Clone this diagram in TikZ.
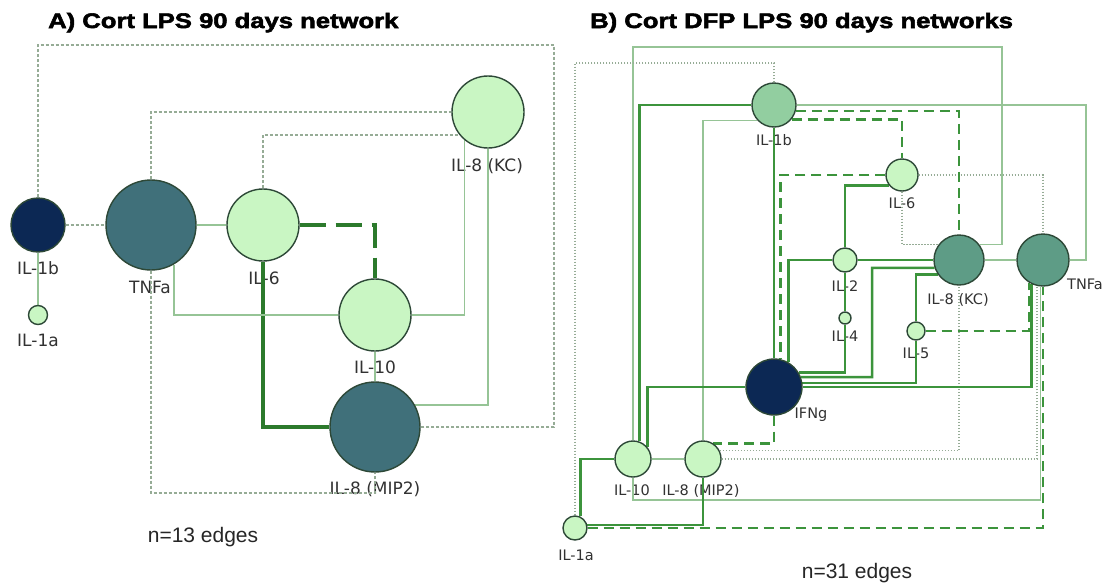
\documentclass[tikz,border=0pt]{standalone}
\usepackage{fontspec}
\newfontfamily\lblfont{DejaVu Sans}
\newfontfamily\capfont{Liberation Sans}
\newfontfamily\headfont[FakeStretch=1.22,BoldFeatures={FakeBold=2.6}]{Liberation Sans}
\pgfdeclarelayer{paper}
\pgfdeclarelayer{labels}
\pgfdeclarelayer{links}
\pgfsetlayers{paper,labels,links,main}

\definecolor{navy}{RGB}{12,40,84}
\definecolor{tealA}{RGB}{64,112,122}
\definecolor{tealB}{RGB}{94,156,134}
\definecolor{midB}{RGB}{146,206,160}
\definecolor{lightg}{RGB}{201,246,195}
\definecolor{rim}{RGB}{45,72,55}
\definecolor{thinc}{RGB}{150,196,150}
\definecolor{dotc}{RGB}{150,172,150}
\definecolor{thickc}{RGB}{60,148,60}
\definecolor{thickdark}{RGB}{44,122,44}
\definecolor{lbltext}{RGB}{50,50,50}

\begin{document}
\begin{tikzpicture}[x=1pt,y=-1pt,
  cyto/.style={circle, draw=rim, line width=1.4pt, inner sep=0pt},
  navyN/.style={cyto, fill=navy},
  tealAN/.style={cyto, fill=tealA},
  tealBN/.style={cyto, fill=tealB},
  midN/.style={cyto, fill=midB},
  lightN/.style={cyto, fill=lightg},
  lblA/.style={font=\lblfont\fontsize{17}{17}\selectfont, text=lbltext, inner sep=0pt, anchor=base},
  lblB/.style={font=\lblfont\fontsize{14.5}{14.5}\selectfont, text=lbltext, inner sep=0pt, anchor=base},
  headline/.style={font=\headfont\bfseries\fontsize{21}{21}\selectfont, inner sep=0pt, anchor=base west},
  countline/.style={font=\capfont\fontsize{21}{21}\selectfont, text=black!85, inner sep=0pt, anchor=base},
  thinA/.style={draw=thinc, line width=1.4pt},
  dotA/.style={draw=dotc, line width=1.3pt, dash pattern=on 3pt off 2pt},
  thickA/.style={draw=thickdark, line width=3.3pt},
  dashA/.style={draw=thickdark, line width=3.8pt, dash pattern=on 26pt off 10pt},
  thinB/.style={draw=thinc, line width=1.2pt},
  dotB/.style={draw=dotc, line width=1.2pt, dash pattern=on 1.5pt off 1.5pt},
  thickB/.style={draw=thickc, line width=2.5pt},
  dashB/.style={draw=thickc, line width=2.5pt, dash pattern=on 10pt off 6pt},
]
\useasboundingbox (0,0) rectangle (1105,584);
\begin{pgfonlayer}{paper}
\fill[white] (0,0) rectangle (1105,584);
\end{pgfonlayer}

% ---------------- panel A ----------------
\node[headline] (titleA) at (48,28) {A) Cort LPS 90 days network};

\node[navyN, minimum size=54pt] (IL1bA) at (38,225) {};
\node[lightN, minimum size=19pt] (IL1aA) at (38,315) {};
\node[tealAN, minimum size=90pt] (TNFaA) at (151,225) {};
\node[lightN, minimum size=72pt] (IL6A) at (263,225) {};
\node[lightN, minimum size=72pt] (IL8KCA) at (488,112) {};
\node[lightN, minimum size=72pt] (IL10A) at (375,315) {};
\node[tealAN, minimum size=90pt] (MIP2A) at (375,427) {};

\begin{pgfonlayer}{labels}
\node[lblA] (tIL1bA) at (38,274) {IL-1b};
\node[lblA] (tIL1aA) at (38,346) {IL-1a};
\node[lblA] (tTNFaA) at (150,293) {TNFa};
\node[lblA] (tIL6A) at (264,284) {IL-6};
\node[lblA] (tIL8KCA) at (487,171) {IL-8 (KC)};
\node[lblA] (tIL10A) at (375,373) {IL-10};
\node[lblA] (tMIP2A) at (375,494) {IL-8 (MIP2)};
\end{pgfonlayer}

\begin{pgfonlayer}{links}
\draw[dotA] (IL1bA) -- (TNFaA);
\draw[thinA] (IL1bA) -- (IL1aA);
\draw[dotA] (IL1bA.north) |- (554,45) |- (MIP2A.east);
\draw[thinA] (TNFaA) -- (IL6A);
\draw[dotA] (TNFaA.north) |- (IL8KCA.west);
\draw[dotA] (IL6A.north) |- (IL8KCA.219.7);
\draw[dashA] (IL6A.east) -| (IL10A.north);
\draw[thickA] (IL6A.south) |- (MIP2A.west);
\draw[thinA] (TNFaA.-60.7) |- (IL10A.west);
\draw[dotA] (TNFaA.south) |- (375,493) -- (MIP2A.south);
\draw[thinA] (IL10A.east) -| (IL8KCA.230.3);
\draw[thinA] (IL10A) -- (MIP2A);
\draw[thinA] (MIP2A.29.3) -| (IL8KCA.south);
\end{pgfonlayer}

\node[countline] (countA) at (203,542) {n=13 edges};

% ---------------- panel B ----------------
\node[headline] (titleB) at (590,28) {B) Cort DFP LPS 90 days networks};

\node[midN, minimum size=44pt] (IL1bB) at (774,105) {};
\node[lightN, minimum size=32pt] (IL6B) at (902,175) {};
\node[lightN, minimum size=24pt] (IL2B) at (845,260) {};
\node[lightN, minimum size=12pt] (IL4B) at (845,318) {};
\node[lightN, minimum size=18pt] (IL5B) at (916,331) {};
\node[tealBN, minimum size=50pt] (IL8KCB) at (959,260) {};
\node[tealBN, minimum size=52pt] (TNFaB) at (1043,260) {};
\node[navyN, minimum size=56pt] (IFNgB) at (774,387) {};
\node[lightN, minimum size=36pt] (IL10B) at (633,459) {};
\node[lightN, minimum size=36pt] (MIP2B) at (703,459) {};
\node[lightN, minimum size=24pt] (IL1aB) at (575,528) {};

\begin{pgfonlayer}{labels}
\node[lblB] (tIL1bB) at (774,145) {IL-1b};
\node[lblB] (tIL6B) at (902,208) {IL-6};
\node[lblB] (tIL2B) at (845,291) {IL-2};
\node[lblB] (tIL4B) at (845,341) {IL-4};
\node[lblB] (tIL8KCB) at (958,304) {IL-8 (KC)};
\node[lblB] (tTNFaB) at (1085,289) {TNFa};
\node[lblB] (tIL5B) at (916,358) {IL-5};
\node[lblB] (tIFNgB) at (811,418) {IFNg};
\node[lblB] (tIL10B) at (632,495) {IL-10};
\node[lblB] (tMIP2B) at (701,495) {IL-8 (MIP2)};
\node[lblB] (tIL1aB) at (576,560) {IL-1a};
\end{pgfonlayer}

\begin{pgfonlayer}{links}
% light solid links
\draw[thinB] (IL10B.north) |- (1002,47) |- (IL8KCB.36.9);
\draw[thinB] (IL1bB.223) -| (MIP2B.north);
\draw[thinB] (IL1bB.east) -- (1086,105) |- (TNFaB.east);
\draw[thinB] (IL10B.south) -- (633,500) -| (TNFaB.-96.6);
\draw[thinB] (IL10B) -- (MIP2B);
\draw[thinB] (IL8KCB) -- (TNFaB);
% dotted links
\draw[dotB] (IL6B.south) |- (IL8KCB.143.1);
\draw[dotB] (IL1bB.north) |- (575,63) -- (IL1aB.north);
\draw[dotB] (IL6B.east) -| (TNFaB.north);
\draw[dotB] (MIP2B.26.4) -| (IL8KCB.south);
\draw[dotB] (MIP2B.east) -| (TNFaB.-103.3);
% strong solid links
\draw[thickB] (IL1bB.west) -| (IL10B.70.5);
\draw[thickB] (IFNgB.west) -| (IL10B.38.9);
\draw[thickB] (IL1bB) -- (IFNgB);
\draw[thickB] (IL6B.218.7) -| (IL2B.north);
\draw[thickB] (IL2B) -- (IL8KCB);
\draw[thickB] (IL2B.west) -| (IFNgB.60);
\draw[thickB] (IL8KCB.198.7) -| (872,377) -- (IFNgB.20.9);
\draw[thickB] (IL8KCB.214.1) -| (IL5B.north);
\draw[thickB] (IL5B.south) |- (IFNgB.8.2);
\draw[thickB] (IL4B.south) |- (IFNgB.30);
\draw[thickB] (IL2B) -- (IL4B);
\draw[thickB] (TNFaB.-115) |- (IFNgB.east);
\draw[thickB] (IL1aB.14.5) -| (MIP2B.south);
\draw[thickB] (IL1aB.65.4) |- (IL10B.west);
% strong dashed links
\draw[dashB] (IL1bB.-15.8) -| (IL8KCB.north);
\draw[dashB] (IL1bB.-39.5) -| (IL6B.north);
\draw[dashB] (IL6B.west) -| (IFNgB.77.6);
\draw[dashB] (IL5B.east) -| (TNFaB.-122.6);
\draw[dashB] (IL1aB.east) -| (TNFaB.south);
\draw[dashB] (IFNgB.south) |- (MIP2B.56.4);
\end{pgfonlayer}

\node[countline] (countB) at (857,578) {n=31 edges};
\end{tikzpicture}
\end{document}
